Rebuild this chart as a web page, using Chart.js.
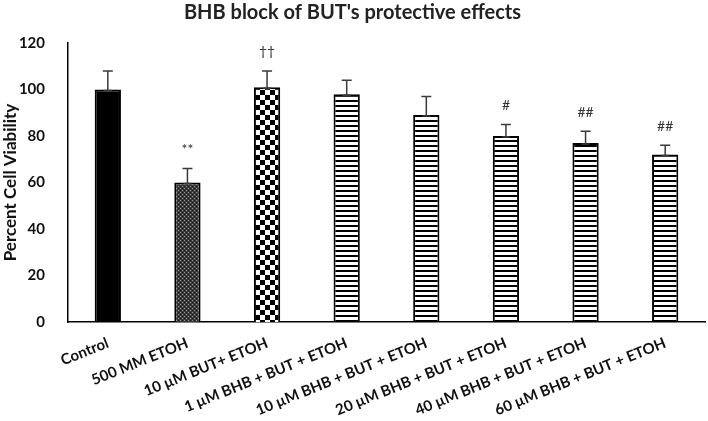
<!DOCTYPE html>
<html>
<head>
<meta charset="utf-8">
<script src="https://cdn.jsdelivr.net/npm/chart.js@4"></script>
<style>
  html, body { margin: 0; padding: 0; background: #fff; }
  #wrap { width: 708px; height: 421px; }
</style>
</head>
<body>
<div id="wrap"><canvas id="myChart"></canvas></div>
<script>
const labels = ['Control', '500 MM ETOH', '10 \u00b5M BUT+ ETOH', '1 \u00b5M BHB + BUT + ETOH',
  '10 \u00b5M BHB + BUT + ETOH', '20 \u00b5M BHB + BUT + ETOH', '40 \u00b5M BHB + BUT + ETOH', '60 \u00b5M BHB + BUT + ETOH'];
const viability = [100, 60, 101, 98, 89, 80, 77, 72];
const errors = [8, 6, 7, 6, 8, 5, 5, 4];
const marks = ['', '**', '\u2020\u2020', '', '', '#', '##', '##'];
const yTicks = [0, 20, 40, 60, 80, 100, 120];

const FONT = 'Lato, "Open Sans", sans-serif';

// fill patterns
function makePattern(w, h, draw) {
    const c = document.createElement('canvas');
    c.width = w; c.height = h;
    const g = c.getContext('2d');
    draw(g);
    return g.createPattern(c, 'repeat');
}
const finePattern = makePattern(4, 4, function (g) {
    g.fillStyle = '#3a3a3a'; g.fillRect(0, 0, 4, 4);
    g.fillStyle = '#9a9a9a'; g.fillRect(0, 0, 1, 1); g.fillRect(2, 2, 1, 1);
    g.fillStyle = '#111'; g.fillRect(2, 0, 1, 1); g.fillRect(0, 2, 1, 1);
});
const checkPattern = makePattern(10, 10, function (g) {
    g.fillStyle = '#fff'; g.fillRect(0, 0, 10, 10);
    g.fillStyle = '#000'; g.fillRect(0, 0, 5, 5); g.fillRect(5, 5, 5, 5);
});
const stripePattern = makePattern(4, 5, function (g) {
    g.fillStyle = '#fff'; g.fillRect(0, 0, 4, 5);
    g.fillStyle = '#000'; g.fillRect(0, 0, 4, 2);
});
const fills = ['#000', finePattern, checkPattern, stripePattern, stripePattern, stripePattern, stripePattern, stripePattern];

/* error bars + significance marks */
const extrasPlugin = {
    id: 'extras',
    afterDatasetsDraw(chart) {
        const ctx = chart.ctx;
        const x = chart.scales.x, y = chart.scales.y;
        ctx.save();
        ctx.strokeStyle = '#3a3a3a';
        ctx.lineWidth = 1.5;
        viability.forEach(function (v, i) {
            const px = x.getPixelForValue(i);
            const top = y.getPixelForValue(v);
            const et = y.getPixelForValue(v + errors[i]);
            ctx.beginPath();
            ctx.moveTo(px, top + 2); ctx.lineTo(px, et);
            ctx.moveTo(px - 5, et); ctx.lineTo(px + 5, et);
            ctx.moveTo(px - 4, top + 1); ctx.lineTo(px + 4, top + 1);
            ctx.stroke();
            if (marks[i]) {
                ctx.fillStyle = '#333';
                ctx.font = '14px ' + FONT;
                ctx.textAlign = 'center';
                ctx.textBaseline = 'middle';
                ctx.fillText(marks[i], px, et - 19);
            }
        });
        ctx.restore();
    }
};

const data = {
    labels: labels,
    datasets: [{
        label: 'Percent Cell Viability',
        data: viability,
        backgroundColor: fills,
        borderColor: '#000',
        borderWidth: 2,
        borderSkipped: 'bottom',
        categoryPercentage: 1,
        barPercentage: 0.33
    }]
};

const options = {
    responsive: true,
    maintainAspectRatio: false,
    animation: false,
    layout: { padding: { left: 0, right: 3, top: 0, bottom: 0 } },
    scales: {
        x: {
            grid: { display: false },
            border: { display: true, color: '#000', width: 1.5 },
            ticks: {
                color: '#111',
                font: { family: FONT, size: 15, weight: 'bold' },
                maxRotation: 22,
                minRotation: 22,
                autoSkip: false,
                padding: 4
            },
            afterFit(scale) { scale.height = 99; }
        },
        y: {
            min: 0,
            max: 120,
            grid: { display: false },
            border: { display: true, color: '#000', width: 1.5 },
            afterBuildTicks(scale) { scale.ticks = yTicks.map(function (v) { return { value: v }; }); },
            ticks: {
                color: '#111',
                font: { family: FONT, size: 15, weight: 'bold' },
                padding: 15
            },
            title: {
                display: true,
                text: 'Percent Cell Viability',
                color: '#111',
                font: { family: FONT, size: 17, weight: 'bold' },
                padding: { top: 0, bottom: 0 }
            },
            afterFit(scale) { scale.width = 68; }
        }
    },
    plugins: {
        legend: { display: false },
        tooltip: { enabled: false },
        title: {
            display: true,
            text: "BHB block of BUT's protective effects",
            color: '#222',
            font: { family: FONT, size: 20, weight: 'bold' },
            padding: { top: 1, bottom: 18 }
        }
    }
};

const myChart = new Chart(document.getElementById('myChart'), {
    type: 'bar',
    data: data,
    options: options,
    plugins: [extrasPlugin]
});
</script>
</body>
</html>
